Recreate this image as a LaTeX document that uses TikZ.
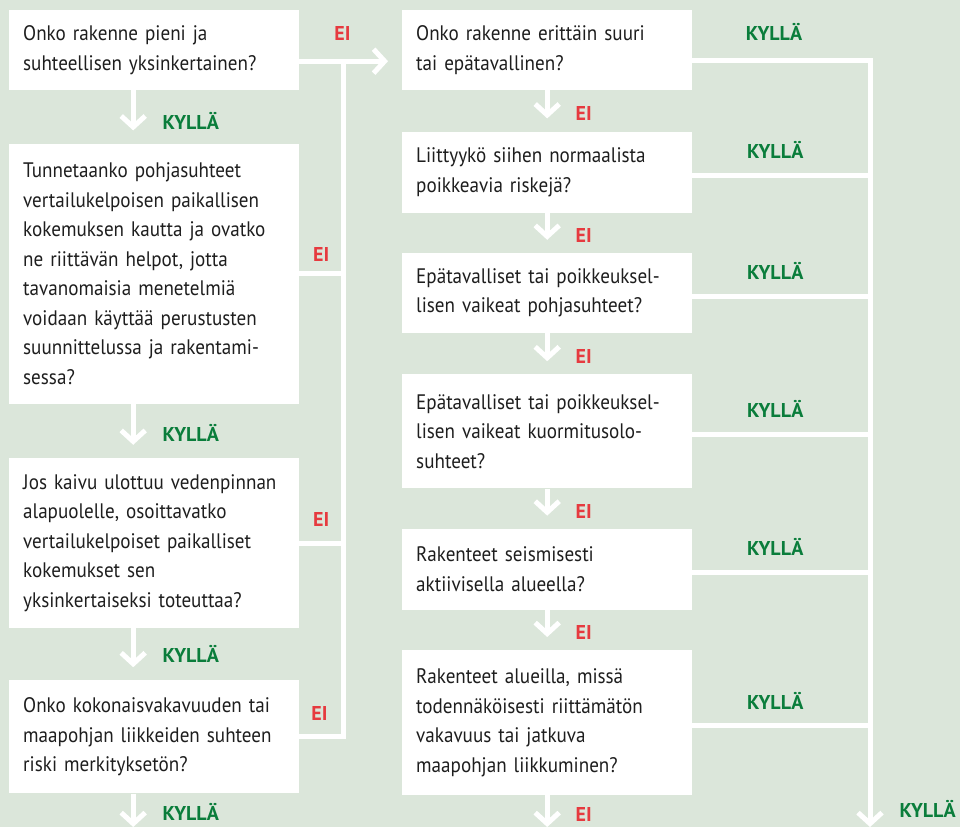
\documentclass[tikz,border=0pt]{standalone}
\usepackage{fontspec}
\setmainfont[FakeStretch=0.91]{PT Sans}
\newfontfamily\lblfont{PT Sans}
\usetikzlibrary{positioning,arrows.meta}
\definecolor{bggreen}{HTML}{DBE6DA}
\definecolor{yesgreen}{HTML}{0A7D3B}
\definecolor{nored}{HTML}{E63A3F}
\definecolor{txtgray}{HTML}{1E1E1E}

\begin{document}
\begin{tikzpicture}[x=1pt, y=1pt,
  Qn/.style={fill=white, text=txtgray, text width=262pt, align=left,
    inner xsep=14pt, inner ysep=0pt, font=\fontsize{21}{29.5}\selectfont},
  Ya/.style={text=yesgreen, inner sep=0pt, font=\lblfont\bfseries\fontsize{20}{22}\selectfont},
  No/.style={text=nored, inner sep=0pt, font=\lblfont\bfseries\fontsize{20}{22}\selectfont},
  Fl/.style={draw=white, line width=5pt},
  Ar/.style={Fl, -{Straight Barb[length=11pt, width=24pt]}}]
\useasboundingbox (0,0) rectangle (960,-827);
\fill[bggreen] (0,0) rectangle (960,-827);

% left column
\node[Qn, minimum height=80pt, anchor=north west] at (9,-10) (q1)
  {Onko rakenne pieni ja\\ suhteellisen yksinkertainen?};
\node[Qn, minimum height=260pt, below=53pt of q1] (q2)
  {Tunnetaanko pohjasuhteet\\ vertailukelpoisen paikallisen\\ kokemuksen kautta ja ovatko\\
   ne riittävän helpot, jotta\\ tavanomaisia menetelmiä\\ voidaan käyttää perustusten\\
   suunnittelussa ja rakentami-\\ sessa?};
\node[Qn, minimum height=170pt, below=54pt of q2] (q3)
  {Jos kaivu ulottuu vedenpinnan\\ alapuolelle, osoittavatko\\ vertailukelpoiset paikalliset\\
   kokemukset sen\\ yksinkertaiseksi toteuttaa?};
\node[Qn, minimum height=113pt, below=52pt of q3] (q4)
  {Onko kokonaisvakavuuden tai\\ maapohjan liikkeiden suhteen\\ riski merkityksetön?};

% right column
\node[Qn, minimum height=80pt, anchor=north west] at (402,-10) (r1)
  {Onko rakenne erittäin suuri\\ tai epätavallinen?};
\node[Qn, minimum height=81pt, below=41pt of r1] (r2)
  {Liittyykö siihen normaalista\\ poikkeavia riskejä?};
\node[Qn, minimum height=80pt, below=40pt of r2] (r3)
  {Epätavalliset tai poikkeuksel-\\ lisen vaikeat pohjasuhteet?};
\node[Qn, minimum height=114pt, below=41pt of r3] (r4)
  {Epätavalliset tai poikkeuksel-\\ lisen vaikeat kuormitusolo-\\ suhteet?};
\node[Qn, minimum height=81pt, below=40pt of r4] (r5)
  {Rakenteet seismisesti\\ aktiivisella alueella?};
\node[Qn, minimum height=145pt, below=40pt of r5] (r6)
  {Rakenteet alueilla, missä\\ todennäköisesti riittämätön\\ vakavuus tai jatkuva\\
   maapohjan liikkuminen?};

\coordinate (lt) at (343,-61);
\coordinate (rb) at (870,-827);

% yes arrows down the left column
\draw[Ar, shorten >=13pt] ([xshift=-21pt]q1.south) -- ([xshift=-21pt]q2.north)
  node[Ya, pos=0.57, right=27pt] {KYLLÄ};
\draw[Ar, shorten >=13pt] ([xshift=-21pt]q2.south) -- ([xshift=-21pt]q3.north)
  node[Ya, pos=0.54, right=27pt] {KYLLÄ};
\draw[Ar, shorten >=13pt] ([xshift=-21pt]q3.south) -- ([xshift=-21pt]q4.north)
  node[Ya, pos=0.5, right=27pt] {KYLLÄ};
\draw[Ar] ([xshift=-21pt]q4.south) -- ([xshift=-21pt]q4.south |- rb)
  node[Ya, pos=0.56, right=27pt] {KYLLÄ};

% no branches to the right column
\draw[Ar, shorten >=14pt] ([yshift=-11pt]q1.east) -- ([yshift=-11pt]r1.west)
  node[No, pos=0.42, above=18pt] {EI};
\draw[Fl] (q4.east) -| (lt) node[No, pos=0.23, above=14pt] {EI};
\draw[Fl] (q2.east) -- (q2.east -| lt) node[No, midway, above=10pt] {EI};
\draw[Fl] (q3.east) -- (q3.east -| lt) node[No, midway, above=14pt] {EI};

% no arrows down the right column
\draw[Ar, shorten >=13pt] (r1) -- (r2) node[No, pos=0.56, right=26pt] {EI};
\draw[Ar, shorten >=13pt] (r2) -- (r3) node[No, pos=0.57, right=26pt] {EI};
\draw[Ar, shorten >=13pt] (r3) -- (r4) node[No, pos=0.56, right=26pt] {EI};
\draw[Ar, shorten >=13pt] (r4) -- (r5) node[No, pos=0.57, right=26pt] {EI};
\draw[Ar, shorten >=13pt] (r5) -- (r6) node[No, pos=0.55, right=26pt] {EI};
\draw[Ar] (r6.south) -- (r6.south |- rb) node[No, pos=0.6, right=26pt] {EI};

% yes branches to the right trunk
\draw[Ar] ([yshift=-10pt]r1.east) -| (rb) node[Ya, pos=0.23, above=17pt] {KYLLÄ}
  node[Ya, pos=0.988, right=27pt] {KYLLÄ};
\foreach \r in {r2,r3,r4,r5,r6}
  \draw[Fl] ([yshift=-3pt]\r.east) -- ([yshift=-3pt]\r.east -| rb)
    node[Ya, midway, above=14pt, xshift=-6pt] {KYLLÄ};

\end{tikzpicture}
\end{document}
